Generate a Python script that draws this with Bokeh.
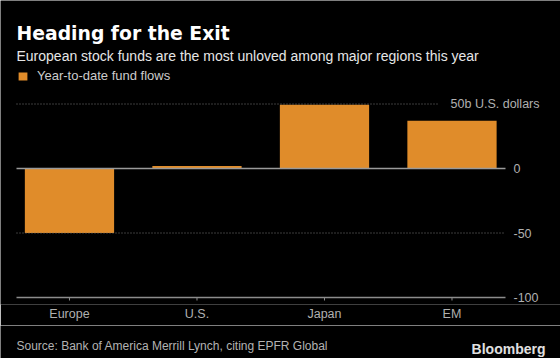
from bokeh.plotting import figure
from bokeh.layouts import column
from bokeh.models import FixedTicker, Label, Legend, LegendItem, Range1d
from bokeh.embed import file_html
from bokeh.resources import INLINE

# ---- data ----
regions = ["Europe", "U.S.", "Japan", "EM"]
flows = [-50, 2, 49.5, 37]          # billions of U.S. dollars, year to date
y_ticks = [-100, -50, 0]
y_tick_labels = ["-100", "-50", "0"]
top_tick_value = 50
top_tick_label = "50b U.S. dollars"
grid_values = [-50, 50]
series_name = "Year-to-date fund flows"
title = "Heading for the Exit"
subtitle = "European stock funds are the most unloved among major regions this year"
source = "Source: Bank of America Merrill Lynch, citing EPFR Global"
brand = "Bloomberg"

BG = "#000000"
ORANGE = "#E08C2A"
GRID = "#777777"
AXIS = "#8c8c8c"
TICK_TXT = "#b0b0b0"
SANS = "Liberation Sans"

W = 560
MAIN_H = 325
FOOT_H = 33
FRAME_H = 304          # frame covers page y 0..304
PX_PER_UNIT = 1.29
ZERO_PX = 168

X0, X1 = -0.541, 3.851
Y1 = ZERO_PX / PX_PER_UNIT
Y0 = (ZERO_PX - FRAME_H) / PX_PER_UNIT


def data_x(px):
    return X0 + (X1 - X0) * px / W


xs = list(range(len(regions)))

p = figure(width=W, height=MAIN_H, output_backend="svg", toolbar_location=None,
           x_range=Range1d(X0, X1), y_range=Range1d(Y0, Y1),
           min_border_left=0, min_border_right=0, min_border_top=0,
           min_border_bottom=MAIN_H - FRAME_H)
p.background_fill_color = BG
p.border_fill_color = BG
p.outline_line_color = None
p.yaxis.visible = False
p.grid.visible = False

bars = p.vbar(x=xs, top=flows, bottom=0, width=0.7, fill_color=ORANGE, line_color=None)

# dotted grid lines (the +50 line stops before its label)
p.segment(x0=[data_x(16)] * 2, x1=[data_x(505), data_x(439)], y0=grid_values, y1=grid_values,
          line_color=GRID, line_dash="1 2", line_width=1)
# zero line and baseline
p.segment(x0=[data_x(16)], x1=[data_x(505)], y0=[0], y1=[0], line_color="#9a9a9a", line_width=1.5)
p.segment(x0=[data_x(16)], x1=[data_x(505)], y0=[y_ticks[0]], y1=[y_ticks[0]],
          line_color=AXIS, line_width=1.5)
# small category ticks below the baseline
tick_len = 3 / PX_PER_UNIT
p.segment(x0=xs, x1=xs, y0=[y_ticks[0]] * len(xs), y1=[y_ticks[0] - tick_len] * len(xs),
          line_color=AXIS, line_width=1)

# x axis (category labels)
xa = p.xaxis[0]
xa.ticker = FixedTicker(ticks=xs)
xa.major_label_overrides = {i: r for i, r in enumerate(regions)}
xa.axis_line_color = None
xa.major_tick_line_color = None
xa.major_tick_out = 0
xa.major_tick_in = 0
xa.minor_tick_line_color = None
xa.major_label_text_color = TICK_TXT
xa.major_label_text_font = SANS
xa.major_label_text_font_size = "12.5px"
xa.major_label_standoff = 2

# y tick labels on the right
for v, lab in zip(y_ticks, y_tick_labels):
    p.add_layout(Label(x=513, y=v, x_units="screen", y_units="data", text=lab,
                       text_align="left", text_baseline="middle", text_color=TICK_TXT,
                       text_font=SANS, text_font_size="12.5px"))
p.add_layout(Label(x=539, y=top_tick_value, x_units="screen", y_units="data", text=top_tick_label,
                   text_align="right", text_baseline="middle", text_color=TICK_TXT,
                   text_font=SANS, text_font_size="12.5px"))

# titles
p.add_layout(Label(x=16, y=FRAME_H - 33, x_units="screen", y_units="screen", text=title,
                   text_font="DejaVu Sans", text_font_style="bold", text_font_size="18.8px",
                   text_color="#ffffff", text_baseline="alphabetic"))
p.add_layout(Label(x=16, y=FRAME_H - 55, x_units="screen", y_units="screen", text=subtitle,
                   text_font=SANS, text_font_size="14px",
                   text_color="#e6e6e6", text_baseline="alphabetic"))

legend = Legend(items=[LegendItem(label=series_name, renderers=[bars])],
                location=(17, FRAME_H - 68 - 15), padding=0, margin=0, spacing=0,
                glyph_width=11, glyph_height=10, label_standoff=9, label_height=10,
                background_fill_alpha=0, border_line_color=None,
                label_text_color="#cccccc", label_text_font=SANS, label_text_font_size="13px")
p.add_layout(legend, "center")

# footer
f = figure(width=W, height=FOOT_H, output_backend="svg", toolbar_location=None,
           x_range=Range1d(0, W), y_range=Range1d(FOOT_H, 0),
           min_border=0)
f.background_fill_color = BG
f.border_fill_color = BG
f.outline_line_color = None
f.axis.visible = False
f.grid.visible = False
f.add_layout(Label(x=16, y=345 - MAIN_H, text=source, text_font=SANS, text_font_size="12px",
                   text_color="#b3b3b3", text_baseline="alphabetic"))
f.add_layout(Label(x=545, y=348 - MAIN_H, text=brand, text_font=SANS, text_font_style="bold",
                   text_font_size="14px", text_color="#e0e0e0", text_align="right",
                   text_baseline="alphabetic"))

layout = column(p, f, spacing=0)
open("out.html", "w").write(file_html(layout, INLINE))
